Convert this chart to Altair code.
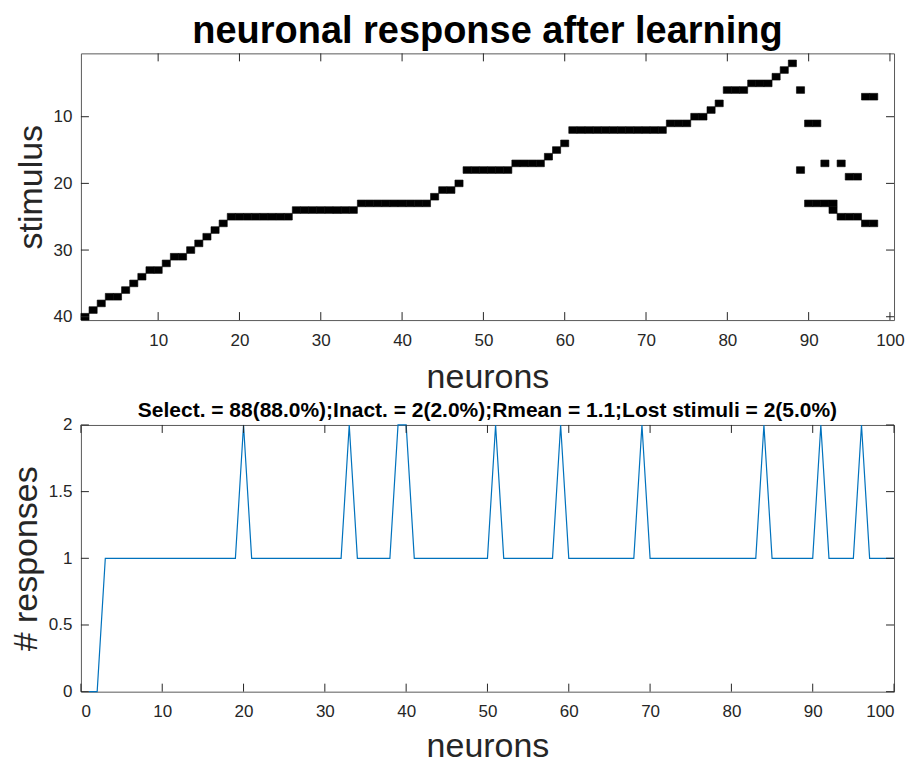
import altair as alt
import pandas as pd

# ---------------- data ----------------
# preferred stimulus of each neuron 1..100 in the response raster (None = no response)
preferred_stimulus = [40, 39, 38, 37, 37, 36, 35, 34, 33, 33,
                      32, 31, 31, 30, 29, 28, 27, 26, 25, 25,
                      25, 25, 25, 25, 25, 25, 24, 24, 24, 24,
                      24, 24, 24, 24, 23, 23, 23, 23, 23, 23,
                      23, 23, 23, 22, 21, 21, 20, 18, 18, 18,
                      18, 18, 18, 17, 17, 17, 17, 16, 15, 14,
                      12, 12, 12, 12, 12, 12, 12, 12, 12, 12,
                      12, 12, 11, 11, 11, 10, 10, 9, 8, 6,
                      6, 6, 5, 5, 5, 4, 3, 2, 6, 11,
                      11, 17, 23, 17, 19, 19, 7, 7, None, None]
# neurons that respond to a second stimulus
second_neuron = [89, 90, 91, 92, 93, 94, 95, 96, 97, 98]
second_stimulus = [18, 23, 23, 23, 24, 25, 25, 25, 26, 26]

# number of responses of each neuron 1..100 (bottom panel)
responses = [0, 0, 1, 1, 1, 1, 1, 1, 1, 1,
             1, 1, 1, 1, 1, 1, 1, 1, 1, 2,
             1, 1, 1, 1, 1, 1, 1, 1, 1, 1,
             1, 1, 2, 1, 1, 1, 1, 1, 2, 2,
             1, 1, 1, 1, 1, 1, 1, 1, 1, 1,
             2, 1, 1, 1, 1, 1, 1, 1, 2, 1,
             1, 1, 1, 1, 1, 1, 1, 1, 2, 1,
             1, 1, 1, 1, 1, 1, 1, 1, 1, 1,
             1, 1, 1, 2, 1, 1, 1, 1, 1, 1,
             2, 1, 1, 1, 1, 2, 1, 1, 1, 1]

top_xticks = [10, 20, 30, 40, 50, 60, 70, 80, 90, 100]
top_yticks = [10, 20, 30, 40]
bottom_xticks = [0, 10, 20, 30, 40, 50, 60, 70, 80, 90, 100]
bottom_yticks = [0, 0.5, 1, 1.5, 2]

main_title = "neuronal response after learning"
stats_title = "Select. = 88(88.0%);Inact. = 2(2.0%);Rmean = 1.1;Lost stimuli = 2(5.0%)"

# ---------------- tables ----------------
cells_n, cells_s = [], []
for i, s in enumerate(preferred_stimulus):
    if s is not None:
        cells_n.append(i + 1)
        cells_s.append(s)
cells_n += second_neuron
cells_s += second_stimulus
raster_df = pd.DataFrame({"neuron": cells_n, "stimulus": cells_s})
resp_df = pd.DataFrame({"neuron": list(range(1, len(responses) + 1)), "responses": responses})

# ---------------- style ----------------
FONT = "Liberation Sans"
W, H = 814, 267
TICK = 8
GRAY = "#262626"

axis_common = dict(ticks=False, domain=False, grid=False,
                   labelFont=FONT, labelFontSize=17, labelColor=GRAY,
                   titleFont=FONT, titleFontSize=34, titleFontWeight="normal",
                   titleColor=GRAY)


def panel_layers(main, xvals, yvals, xs, ys, xaxis, yaxis):
    tx = pd.DataFrame({"v": xvals})
    ty = pd.DataFrame({"v": yvals})
    r = dict(color=GRAY, strokeWidth=1)
    return [
        main,
        alt.Chart(tx).mark_rule(**r).encode(
            x=alt.X("v:Q", scale=xs, axis=xaxis), y=alt.value(H), y2=alt.value(H - TICK)),
        alt.Chart(tx).mark_rule(**r).encode(
            x=alt.X("v:Q", scale=xs, axis=xaxis), y=alt.value(0), y2=alt.value(TICK)),
        alt.Chart(ty).mark_rule(**r).encode(
            y=alt.Y("v:Q", scale=ys, axis=yaxis), x=alt.value(0), x2=alt.value(TICK)),
        alt.Chart(ty).mark_rule(**r).encode(
            y=alt.Y("v:Q", scale=ys, axis=yaxis), x=alt.value(W), x2=alt.value(W - TICK)),
    ]


# ---------------- top panel ----------------
xs_top = alt.Scale(domain=[0.5, 100.5], nice=False, zero=False)
ys_top = alt.Scale(domain=[0.5, 40.5], nice=False, zero=False, reverse=True)
xaxis_top = alt.Axis(values=top_xticks, title="neurons", labelPadding=12,
                     titlePadding=13, **axis_common)
yaxis_top = alt.Axis(values=top_yticks, title="stimulus", labelPadding=9,
                     titlePadding=5, **axis_common)

rects = alt.Chart(raster_df).transform_calculate(
    xa="datum.neuron - 0.5", xb="datum.neuron + 0.5",
    ya="datum.stimulus - 0.5", yb="datum.stimulus + 0.5",
).mark_rect(color="black", stroke="black", strokeWidth=0.6).encode(
    x=alt.X("xa:Q", scale=xs_top, axis=xaxis_top),
    x2="xb:Q",
    y=alt.Y("ya:Q", scale=ys_top, axis=yaxis_top),
    y2="yb:Q",
)

top = alt.layer(*panel_layers(rects, top_xticks, top_yticks, xs_top, ys_top,
                              xaxis_top, yaxis_top)).properties(
    width=W, height=H,
    title=alt.TitleParams(main_title, font=FONT, fontSize=38, fontWeight="bold",
                          color="black", offset=2, anchor="middle", frame="group"),
)

# ---------------- bottom panel ----------------
xs_bot = alt.Scale(domain=[0, 100], nice=False, zero=False)
ys_bot = alt.Scale(domain=[0, 2], nice=False, zero=False)
xaxis_bot = alt.Axis(values=bottom_xticks, title="neurons", labelPadding=12,
                     titlePadding=10, **axis_common)
yaxis_bot = alt.Axis(values=bottom_yticks, title="# responses", format="~g",
                     labelPadding=9, titlePadding=5, **axis_common)

line = alt.Chart(resp_df).mark_line(color="#0072BD", strokeWidth=1.2).encode(
    x=alt.X("neuron:Q", scale=xs_bot, axis=xaxis_bot),
    y=alt.Y("responses:Q", scale=ys_bot, axis=yaxis_bot),
)

bottom = alt.layer(*panel_layers(line, bottom_xticks, bottom_yticks, xs_bot, ys_bot,
                                 xaxis_bot, yaxis_bot)).properties(
    width=W, height=H,
    title=alt.TitleParams(stats_title, font=FONT, fontSize=21, fontWeight="bold",
                          color="black", offset=-5, anchor="middle", frame="group"),
)

chart = alt.vconcat(top, bottom, spacing=3).configure_view(
    stroke="#595959", strokeWidth=1
).properties(
    padding={"left": 8, "top": 12, "right": 5, "bottom": 2},
    background="white",
)

chart.save("out.html", embed_options={"renderer": "svg", "actions": False})
